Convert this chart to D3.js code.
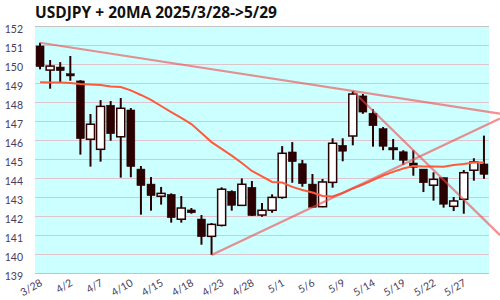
<!DOCTYPE html>
<html>
<head>
<meta charset="utf-8">
<script src="https://cdn.jsdelivr.net/npm/d3@7"></script>
<style>
  body { margin: 0; background: #fff; }
  svg { display: block; }
</style>
</head>
<body>
<div id="chart"></div>
<script>
const dates = ["3/28","3/31","4/1","4/2","4/3","4/4","4/7","4/8","4/9","4/10","4/11","4/14","4/15","4/16","4/17",
    "4/18","4/21","4/22","4/23","4/24","4/25","4/28","4/29","4/30","5/1","5/2","5/5","5/6","5/7","5/8",
    "5/9","5/12","5/13","5/14","5/15","5/16","5/19","5/20","5/21","5/22","5/23","5/26","5/27","5/28","5/29"];

const opens = [150.95,149.68,149.84,149.49,149.11,146.04,145.51,147.83,146.17,147.58,144.47,143.68,143.04,143.14,141.83,
    142.32,141.84,140.93,141.51,143.30,142.56,143.51,142.05,142.30,142.98,145.37,144.75,143.68,142.49,143.77,
    145.72,146.21,148.32,147.41,146.60,145.50,145.38,144.79,144.47,143.62,144.02,142.51,142.88,144.41,144.74];
const highs = [151.12,150.21,150.10,150.42,149.15,147.37,148.10,148.05,148.21,147.68,144.63,144.05,143.53,143.19,143.05,
    142.42,142.05,141.63,143.51,143.35,143.98,143.84,142.68,143.14,145.68,145.89,144.95,144.21,143.95,146.09,
    146.09,148.58,148.42,147.62,146.68,146.05,145.46,145.46,144.47,144.30,144.02,143.00,144.42,145.04,146.23];
const lows = [149.72,148.70,149.02,149.12,145.23,144.60,144.86,145.96,144.02,144.04,142.07,142.28,142.60,141.65,141.65,
    142.12,140.49,139.95,141.45,142.28,142.54,142.00,141.96,142.17,142.91,143.75,143.54,142.44,142.46,143.49,
    144.88,145.72,147.38,145.65,145.46,144.96,144.70,144.12,143.26,142.81,142.44,142.26,142.12,143.86,143.96];
const closes = [149.86,149.89,149.65,149.37,146.07,146.83,147.77,146.33,147.67,144.60,143.60,143.07,143.19,141.91,142.42,
    142.17,140.91,141.56,143.41,142.56,143.67,142.02,142.30,142.98,145.30,144.86,143.70,142.46,143.79,145.83,
    145.41,148.42,147.47,146.75,145.67,145.58,144.93,144.56,143.75,143.93,142.62,142.79,144.28,144.84,144.19];

const ma20 = [149.04,149.03,149.02,149.00,148.95,148.92,148.89,148.82,148.79,148.61,148.37,148.11,147.79,147.47,147.16,
    146.84,146.37,145.89,145.53,145.18,144.79,144.37,144.08,143.79,143.76,143.53,143.37,143.24,143.05,143.03,
    143.21,143.45,143.66,143.89,144.13,144.32,144.50,144.63,144.61,144.61,144.59,144.68,144.74,144.82,144.82];

// trend lines: [start index, start price, index of second point, price at second point]
const trendStart = [0, 31, 17];
const trendStartPrice = [151.12, 148.58, 139.95];
const trendThrough = [31, 44, 27];
const trendThroughPrice = [148.58, 141.82, 142.46];

const yTicks = d3.range(139, 153);

const width = 500, height = 300;
const margin = { top: 26, right: 11, bottom: 27, left: 35 };
const plotW = width - margin.left - margin.right;
const plotH = height - margin.top - margin.bottom;

const svg = d3.select("#chart").append("svg")
    .attr("width", width)
    .attr("height", height);

svg.append("text")
    .attr("x", 35)
    .attr("y", 18)
    .attr("font-family", "'Open Sans', sans-serif")
    .attr("font-weight", "bold")
    .attr("font-size", 15.5)
    .attr("fill", "#111")
    .text("USDJPY + 20MA 2025/3/28->5/29");

const x = d3.scaleBand()
    .domain(dates)
    .range([margin.left, margin.left + plotW]);
const bw = x.bandwidth();
const cx = i => x(dates[i]) + bw / 2;

// index -> pixel, used to extend trend lines past the last candle
const xi = d3.scaleLinear()
    .domain([0, dates.length - 1])
    .range([cx(0), cx(dates.length - 1)]);

const y = d3.scaleLinear()
    .domain([139, 152])
    .range([margin.top + plotH, margin.top]);

// plot background
svg.append("rect")
    .attr("x", margin.left)
    .attr("y", margin.top)
    .attr("width", plotW)
    .attr("height", plotH)
    .attr("fill", "#ccffff");

// grid
svg.append("g")
    .selectAll("line")
    .data(yTicks)
    .join("line")
    .attr("x1", margin.left)
    .attr("x2", margin.left + plotW)
    .attr("y1", d => Math.round(y(d)) + 0.5)
    .attr("y2", d => Math.round(y(d)) + 0.5)
    .attr("stroke", d => (d === 139 || d === 152) ? "#c4c4c4" : "#dcc6cc")
    .attr("stroke-width", 1.2);

// y labels
svg.append("g")
    .selectAll("text")
    .data(yTicks)
    .join("text")
    .attr("x", 23)
    .attr("y", d => y(d) + 6.5)
    .attr("text-anchor", "end")
    .attr("font-family", "Lato, sans-serif")
    .attr("font-size", 10.5)
    .attr("fill", "#4a3c5c")
    .text(d => d);

// x labels
svg.append("g")
    .selectAll("text")
    .data(dates.filter((d, i) => i % 3 === 0))
    .join("text")
    .attr("transform", d => `translate(${x(d) + bw / 2 + 3}, 285) rotate(-30)`)
    .attr("text-anchor", "end")
    .attr("font-family", "Lato, sans-serif")
    .attr("font-size", 10.5)
    .attr("fill", "#4a3c5c")
    .text(d => d);

// candles
const candles = svg.append("g")
    .selectAll("g")
    .data(dates.map((d, i) => i))
    .join("g");

candles.append("line")
    .attr("x1", i => cx(i))
    .attr("x2", i => cx(i))
    .attr("y1", i => y(highs[i]))
    .attr("y2", i => y(lows[i]))
    .attr("stroke", "#2a0000")
    .attr("stroke-width", 2);

candles.append("rect")
    .attr("x", i => cx(i) - 4)
    .attr("width", 8)
    .attr("y", i => y(Math.max(opens[i], closes[i])))
    .attr("height", i => Math.max(1.5, Math.abs(y(opens[i]) - y(closes[i]))))
    .attr("fill", i => closes[i] >= opens[i] ? "#ffffff" : "#2a0000")
    .attr("stroke", "#2a0000")
    .attr("stroke-width", i => closes[i] >= opens[i] ? 1.5 : 0.5);

// 20MA
svg.append("path")
    .datum(ma20)
    .attr("fill", "none")
    .attr("stroke", "#ff5a3c")
    .attr("stroke-width", 2)
    .attr("d", d3.line().x((d, i) => cx(i)).y(d => y(d)));

// trend lines, extended to the right edge
const endIndex = xi.invert(width);
svg.append("g")
    .selectAll("line")
    .data(trendStart.map((s, k) => k))
    .join("line")
    .each(function (k) {
        const slope = (trendThroughPrice[k] - trendStartPrice[k]) / (trendThrough[k] - trendStart[k]);
        const endPrice = trendStartPrice[k] + slope * (endIndex - trendStart[k]);
        d3.select(this)
            .attr("x1", xi(trendStart[k]))
            .attr("y1", y(trendStartPrice[k]))
            .attr("x2", xi(endIndex))
            .attr("y2", y(endPrice));
    })
    .attr("stroke", "rgba(240, 70, 70, 0.6)")
    .attr("stroke-width", 2.2);
</script>
</body>
</html>
